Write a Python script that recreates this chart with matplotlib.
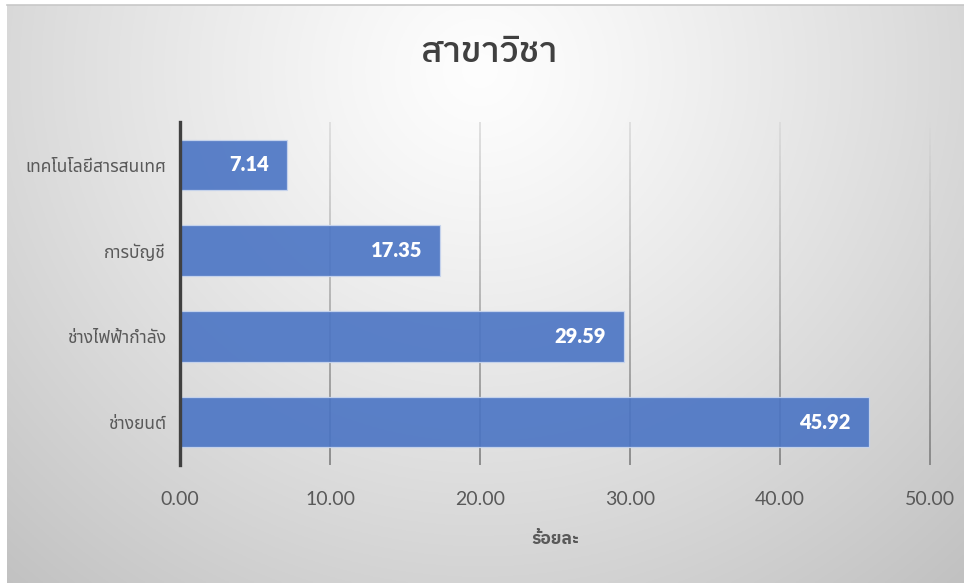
import matplotlib
matplotlib.use("Agg")
import matplotlib.pyplot as plt
import numpy as np
from matplotlib.collections import LineCollection

# ---- data ----
categories = ["ช่างยนต์", "ช่างไฟฟ้ากำลัง", "การบัญชี", "เทคโนโลยีสารสนเทศ"]
values = [45.92, 29.59, 17.35, 7.14]
xticks = [0, 10, 20, 30, 40, 50]
xtick_labels = ["0.00", "10.00", "20.00", "30.00", "40.00", "50.00"]
title = "สาขาวิชา"
xlabel = "ร้อยละ"

THAI = ["Noto Sans Thai", "DejaVu Sans"]
THAI_B = ["IBM Plex Sans Thai", "Noto Sans Thai", "DejaVu Sans"]
NUM = ["Lato", "DejaVu Sans"]

W, H = 964, 583
fig = plt.figure(figsize=(W / 100, H / 100), dpi=100)
fig.patch.set_facecolor("white")

# ---- background radial gradient ----
bg = fig.add_axes([7 / W, 0, (W - 7) / W, (H - 5) / H], zorder=-10)
bg.set_axis_off()
ny, nx = 300, 500
yy, xx = np.mgrid[0:ny, 0:nx]
xs = xx / (nx - 1) * (W - 7) + 7
ys = yy / (ny - 1) * (H - 5) + 5
r = np.sqrt(((xs - 480) / 620) ** 2 + ((ys - 70) / 600) ** 2)
v = 0.995 - 0.20 * np.clip(r, 0, 1.2) ** 1.2
img = np.dstack([v, v, v])
bg.imshow(img, extent=[0, 1, 0, 1], aspect="auto", origin="upper")
bg.set_xlim(0, 1)
bg.set_ylim(0, 1)
bg.plot([0, 1], [1, 1], color="#c8c8c8", lw=1.2, transform=bg.transAxes, clip_on=False)

# ---- main axes ----
L, R, T, B = 180, 930, 122, 465
ax = fig.add_axes([L / W, 1 - B / H, (R - L) / W, (B - T) / H])
ax.set_facecolor("none")
ypos = np.arange(len(categories))
ax.set_xlim(0, 50)
ax.set_ylim(-0.5, len(categories) - 0.5)

# gridlines with vertical shading (light at top, darker at bottom)
segs, cols = [], []
n = 60
for xt in xticks[1:]:
    ysg = np.linspace(-0.5, len(categories) - 0.5, n + 1)
    for i in range(n):
        segs.append([(xt, ysg[i]), (xt, ysg[i + 1])])
        t = i / (n - 1)  # 0 bottom, 1 top
        g = 0.47 + 0.38 * t
        cols.append((g, g, g))
lc = LineCollection(segs, colors=cols, linewidths=1.1, zorder=1, clip_on=False)
ax.add_collection(lc)

bars = ax.barh(ypos, values, height=0.59, color="#4a74c4", alpha=0.9,
               edgecolor="#c9d6ee", linewidth=0.9, zorder=2)

for y, v_ in zip(ypos, values):
    ax.annotate(f"{v_:.2f}", xy=(v_, y), xytext=(-13, 0), textcoords="offset points",
                ha="right", va="center", color="white", fontsize=14.5,
                fontweight="heavy", family=NUM, zorder=3)

for s in ["top", "right", "bottom"]:
    ax.spines[s].set_visible(False)
ax.spines["left"].set_color("#404040")
ax.spines["left"].set_linewidth(2.4)
ax.spines["left"].set_zorder(4)

ax.set_xticks(xticks)
ax.set_xticklabels(xtick_labels, family=NUM, fontsize=14, color="#595959")
ax.set_yticks(ypos)
ax.set_yticklabels(categories, family=THAI, fontsize=12.5, color="#595959")
ax.tick_params(axis="x", length=0, pad=19)
ax.tick_params(axis="y", length=0, pad=10)

ax.set_xlabel(xlabel, family=THAI_B, fontsize=12.5, fontweight="bold", color="#595959", labelpad=16)

fig.text(489 / W, 1 - 52 / H, title, ha="center", va="center", family=THAI_B,
         fontsize=26, fontweight="medium", color="#404040")

fig.savefig("out.png", dpi=100)
